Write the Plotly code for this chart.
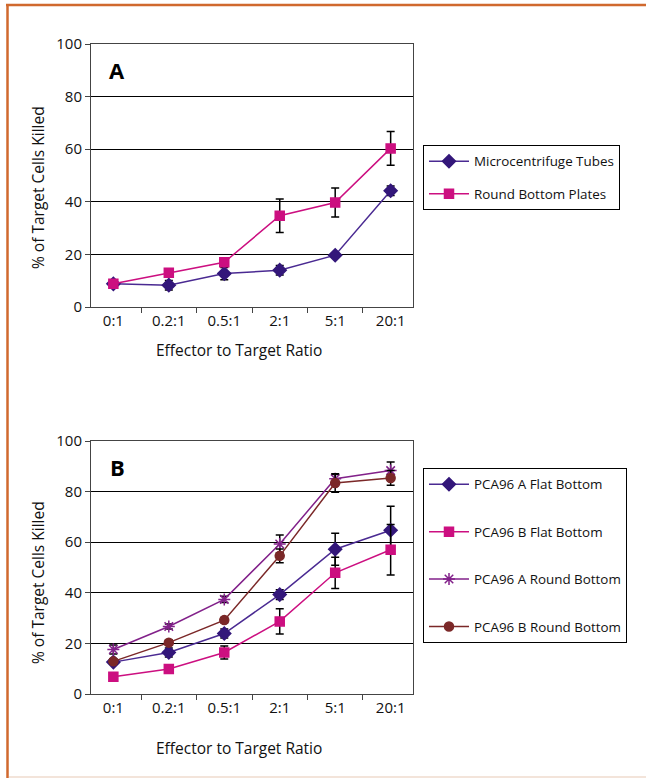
import plotly.graph_objects as go
from plotly.subplots import make_subplots

categories = ["0:1", "0.2:1", "0.5:1", "2:1", "5:1", "20:1"]

# Panel A
tubes = [8.8, 8.3, 12.7, 14.0, 19.7, 44.2]
tubes_err = [0.8, 1.8, 2.3, 1.8, 0.8, 1.8]
plates = [8.8, 13.0, 17.0, 34.7, 39.7, 60.3]
plates_err = [0.8, 0.8, 0.8, 6.4, 5.5, 6.4]

# Panel B
flat_a = [12.6, 16.4, 23.9, 39.3, 57.2, 64.7]
flat_a_err = [0.8, 1.8, 1.8, 1.9, 6.3, 9.5]
flat_b = [6.8, 9.9, 16.4, 28.7, 47.9, 57.0]
flat_b_err = [0.8, 1.6, 2.6, 5.0, 6.2, 10.0]
round_a = [17.6, 26.7, 37.4, 59.3, 85.1, 88.3]
round_a_err = [1.8, 1.0, 1.2, 3.5, 1.7, 3.4]
round_b = [12.9, 20.3, 29.2, 54.6, 83.4, 85.4]
round_b_err = [1.0, 1.0, 1.0, 2.7, 3.7, 2.9]

y_ticks = [0, 20, 40, 60, 80, 100]

FONT = "Open Sans"
W, H = 646, 778
L, R, T, B = 91, 233, 44, 84
PW, PH = W - L - R, H - T - B


def px_to_px(x):
    return (x - L) / PW


def py_to_py(y):
    return (H - B - y) / PH


INDIGO_LINE = "#4a2a92"
INDIGO_MK = "#33177a"
PINK = "#cc0f80"
PURPLE = "#82218a"
BROWN = "#7b2828"

fig = make_subplots(rows=2, cols=1)
fig.update_layout(
    yaxis=dict(domain=[py_to_py(307), 1.0]),
    yaxis2=dict(domain=[0.0, py_to_py(441)]),
)


def add(name, y, err, line_color, mk_color, symbol, size, row, legend, group):
    fig.add_trace(
        go.Scatter(
            x=categories, y=y, name=name, mode="lines+markers",
            line=dict(color=line_color, width=1.5),
            marker=dict(symbol=symbol, size=size, color=mk_color,
                        line=dict(color=mk_color, width=1.5)),
            error_y=dict(type="data", array=err, visible=True, color="black",
                         thickness=1.5, width=4),
            legend=legend, legendgroup=group,
        ),
        row=row, col=1,
    )


add("Microcentrifuge Tubes", tubes, tubes_err, INDIGO_LINE, INDIGO_MK, "diamond", 10, 1, "legend", "a1")
add("Round Bottom Plates", plates, plates_err, PINK, PINK, "square", 9, 1, "legend", "a2")
add("PCA96 A Flat Bottom", flat_a, flat_a_err, INDIGO_LINE, INDIGO_MK, "diamond", 10, 2, "legend2", "b1")
add("PCA96 B Flat Bottom", flat_b, flat_b_err, PINK, PINK, "square", 9, 2, "legend2", "b2")
add("PCA96 A Round Bottom", round_a, round_a_err, PURPLE, PURPLE, "asterisk-open", 10, 2, "legend2", "b3")
add("PCA96 B Round Bottom", round_b, round_b_err, BROWN, BROWN, "circle", 9, 2, "legend2", "b4")

axis_font = dict(family=FONT, size=15, color="#111")
for r in (1, 2):
    fig.update_xaxes(
        type="category", tickson="boundaries", ticks="outside", ticklen=5,
        tickcolor="#444", showline=True, linecolor="#444", linewidth=1,
        mirror=True, showgrid=False, tickfont=axis_font, row=r, col=1,
    )
    fig.update_yaxes(
        range=[0, 100], tickvals=y_ticks, ticks="outside", ticklen=5,
        tickcolor="#444", showline=True, linecolor="#444", linewidth=1,
        mirror=True, showgrid=True, gridcolor="black", gridwidth=1,
        zeroline=False, tickfont=axis_font, row=r, col=1,
    )

legend_font = dict(family=FONT, size=13.4, color="#111")
fig.update_layout(
    width=W, height=H,
    margin=dict(l=L, r=R, t=T, b=B),
    paper_bgcolor="white", plot_bgcolor="white",
    showlegend=True,
    legend=dict(
        x=px_to_px(423), y=py_to_py(145), xanchor="left", yanchor="top",
        bordercolor="black", borderwidth=1, font=legend_font,
        tracegroupgap=12, bgcolor="white", itemwidth=40,
    ),
    legend2=dict(
        x=px_to_px(423), y=py_to_py(468), xanchor="left", yanchor="top",
        bordercolor="black", borderwidth=1, font=legend_font,
        tracegroupgap=27, bgcolor="white", itemwidth=40,
    ),
)

title_font = dict(family=FONT, size=15.5, color="#111")
annotations = [
    dict(text="<b>A</b>", x=px_to_px(117), y=py_to_py(70), xref="paper", yref="paper",
         xanchor="center", yanchor="middle",
         showarrow=False, font=dict(family=FONT, size=22, color="black")),
    dict(text="<b>B</b>", x=px_to_px(117), y=py_to_py(467), xref="paper", yref="paper",
         xanchor="center", yanchor="middle",
         showarrow=False, font=dict(family=FONT, size=22, color="black")),
    dict(text="Effector to Target Ratio", x=px_to_px(239), y=py_to_py(350),
         xref="paper", yref="paper", xanchor="center", yanchor="middle",
         showarrow=False, font=title_font),
    dict(text="Effector to Target Ratio", x=px_to_px(239), y=py_to_py(748),
         xref="paper", yref="paper", xanchor="center", yanchor="middle",
         showarrow=False, font=title_font),
    dict(text="% of Target Cells Killed", x=px_to_px(38), y=py_to_py(188),
         xref="paper", yref="paper", xanchor="center", yanchor="middle",
         showarrow=False, textangle=-90, font=title_font),
    dict(text="% of Target Cells Killed", x=px_to_px(38), y=py_to_py(583),
         xref="paper", yref="paper", xanchor="center", yanchor="middle",
         showarrow=False, textangle=-90, font=title_font),
]
fig.update_layout(annotations=annotations)

ORANGE = "#d0692e"
shapes = [
    dict(type="line", xref="paper", yref="paper",
         x0=px_to_px(6), x1=px_to_px(W + 5), y0=py_to_py(5), y1=py_to_py(5),
         line=dict(color=ORANGE, width=2.5)),
    dict(type="line", xref="paper", yref="paper",
         x0=px_to_px(7.5), x1=px_to_px(7.5), y0=py_to_py(4), y1=py_to_py(H + 5),
         line=dict(color=ORANGE, width=2.5)),
    dict(type="line", xref="paper", yref="paper",
         x0=px_to_px(9), x1=px_to_px(W + 5), y0=py_to_py(777), y1=py_to_py(777),
         line=dict(color="#f3e4da", width=2)),
]
fig.update_layout(shapes=shapes)

fig.write_html("out.html")
